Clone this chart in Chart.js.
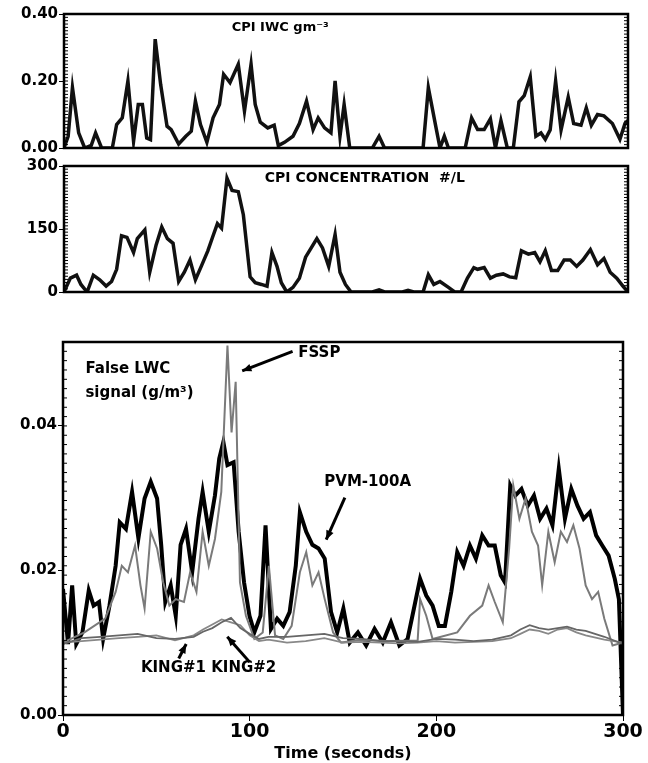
<!DOCTYPE html>
<html>
<head>
<meta charset="utf-8">
<script src="https://cdn.jsdelivr.net/npm/chart.js@4"></script>
<style>
  body { margin: 0; background: #fff; width: 648px; height: 763px; position: relative; overflow: hidden; }
  .box { position: absolute; left: 0; width: 648px; }
</style>
</head>
<body>
<div class="box" style="top:0;height:158px"><canvas id="iwc"></canvas></div>
<div class="box" style="top:156px;height:146px"><canvas id="conc"></canvas></div>
<div class="box" style="top:330px;height:433px"><canvas id="lwc"></canvas></div>
<script>
// CPI IWC g/m3, time (s)
const iwcT = [0,2.2,4.5,7.8,11,14.5,16.8,20,25.7,28,31,34,37,39.5,41.7,44,46,48.5,51.4,54.8,57,61,64.8,67.7,69.9,72.6,76,79.3,82.7,84.9,88.3,92.7,96,99.5,101.7,104.4,108.4,111.8,114,117.3,121.8,125.2,129,132.5,135.2,138.6,142,144.2,146.8,149,152,164,167.6,170.5,191,193.8,197.8,200,202.3,204.5,213.4,216.8,220,223.5,226.8,229.5,232.4,235.8,239,242,244.8,248,251,253.7,256,258.6,261.5,264.4,268.2,271.1,275,277.8,280.5,283.8,287.2,291.7,295.7,298.4,300];
const iwcV = [0,0.035,0.18,0.045,0,0.008,0.045,0,0,0.07,0.09,0.20,0.02,0.13,0.13,0.03,0.025,0.325,0.19,0.065,0.055,0.012,0.035,0.05,0.14,0.07,0.017,0.09,0.13,0.22,0.195,0.25,0.11,0.25,0.13,0.077,0.06,0.068,0.007,0.017,0.035,0.073,0.14,0.055,0.09,0.06,0.045,0.20,0.035,0.13,0,0,0.035,0,0,0.18,0.063,0,0.035,0,0,0.09,0.055,0.055,0.087,0,0.082,0,0,0.138,0.156,0.212,0.035,0.045,0.026,0.054,0.20,0.054,0.152,0.073,0.068,0.12,0.068,0.10,0.096,0.073,0.026,0.073,0.082];

// CPI concentration #/L
const concT = [0,3.4,6.7,9,12.3,15.6,19,22.4,25.3,28,30.6,33.5,37,39,43,45.6,49,52,55,58,61,64,67,69.9,73,76.5,79.3,81.6,83.8,86.7,89.4,92.7,95.4,99,101.7,105,108,110.6,113.3,115.6,118.5,121.8,125.2,128.5,134.5,137.5,140.8,144.2,146.8,149.7,152.7,164,167.6,170.5,180,183,186,191,193.8,196.7,200,204.5,207.8,211.2,214.6,218,220,223.5,226.8,230,233.6,237,240.3,243.3,247,250.4,253.2,256,259.3,262.6,266,269.3,272.7,276,280,283.8,287.2,290.5,294,297.3,300];
const concV = [0,33,40,18,0,40,29,14,25,54,134,130,94,127,148,47,112,155,127,116,25,47,76,29,61,98,134,163,152,271,242,239,184,36,22,18,14,94,61,22,0,11,33,83,127,105,61,137,47,18,0,0,5,0,0,4,0,0,41,18,25,11,0,0,33,58,54,58,33,40,43,36,34,98,90,94,72,98,51,51,76,76,61,76,101,65,80,47,33,14,0];

// PVM-100A false LWC g/m3
const pvmT = [0,2.7,4.9,7.1,10.4,13.8,16.4,19.3,21.5,24.9,28.2,30.4,33.7,37,40.4,43.7,47,50.4,52.6,54.8,57.7,60.4,63,65.9,69.2,72.6,74.8,78.1,81.4,83.7,85.9,88.1,91.4,94.1,97,99.9,102.5,105.8,108.5,111.4,114.7,118,121.4,124.7,126.9,130.3,133.6,136.9,140.2,143.6,146.9,150.2,153.6,158,162.4,166.9,171.3,175.7,180.2,184.6,188,191.3,194.6,198,201.3,204.6,208,211.2,214.6,218,221.2,224.6,228,231.3,234.5,236.8,239.6,242.3,245.6,249,252.3,255.6,259,262.2,265.6,268.9,272.3,275.6,278.9,282.3,285.6,288.9,292.3,295.6,297.8,300];
const pvmV = [0.0174,0.0098,0.0179,0.0098,0.0114,0.0172,0.0151,0.0156,0.0105,0.0151,0.0206,0.0266,0.0257,0.0308,0.0244,0.0299,0.0322,0.0299,0.0235,0.0156,0.0179,0.0137,0.0235,0.0257,0.0197,0.0271,0.0308,0.0253,0.0303,0.0354,0.0377,0.0345,0.0349,0.0253,0.0183,0.0137,0.0114,0.0137,0.0262,0.0119,0.0133,0.0123,0.0142,0.0206,0.028,0.0253,0.0235,0.023,0.0216,0.0142,0.0114,0.0147,0.01,0.0114,0.0096,0.0119,0.01,0.0128,0.0096,0.0105,0.0147,0.0188,0.0165,0.0151,0.0123,0.0123,0.017,0.0225,0.0206,0.0234,0.0216,0.0248,0.0234,0.0234,0.0193,0.0183,0.0317,0.0303,0.0312,0.0289,0.0303,0.0271,0.0285,0.0262,0.034,0.0271,0.0312,0.0289,0.0271,0.028,0.0248,0.0234,0.022,0.0188,0.016,0];

// FSSP false LWC g/m3
const fsspT = [0,11.5,22.6,28.2,31.5,34.8,38.6,41.5,43.7,47,50.4,53.7,57,60.4,64.8,68.1,71.5,74.8,78.1,81.4,84.8,88.1,90.3,92.5,94.8,98,102.5,107,110.3,113.6,118,122.5,126.9,130.3,133.6,136.9,140.2,144.7,149,160,175,190,191.3,194.6,198,211.2,218,224.6,228,231.3,235.6,239,241.2,244.5,247.8,251.2,254.5,256.7,260,263.4,266.7,270,273.4,276.7,280,283.4,286.7,290,294.4,300];
const fsspV = [0.01,0.0114,0.0133,0.017,0.0206,0.0197,0.0234,0.0179,0.0147,0.0253,0.023,0.0183,0.0151,0.016,0.0156,0.0197,0.017,0.0253,0.0206,0.0243,0.0308,0.051,0.039,0.046,0.0183,0.0137,0.0105,0.0114,0.0206,0.011,0.0105,0.0123,0.0197,0.0225,0.0179,0.0197,0.016,0.0114,0.01,0.0104,0.0102,0.0103,0.016,0.0137,0.0105,0.0114,0.0137,0.0151,0.0179,0.0156,0.0128,0.023,0.0317,0.0271,0.0299,0.0253,0.0234,0.0179,0.0253,0.0211,0.0253,0.0239,0.0262,0.023,0.0179,0.016,0.017,0.0133,0.0096,0.01];

// King probes false LWC g/m3
const kingT = [0,10,20,30,40,50,60,70,75,80,85,90,95,100,105,110,120,130,140,150,160,170,180,190,200,210,220,230,240,245,250,255,260,265,270,275,280,290,300];
const king1V = [0.0098,0.0106,0.0108,0.011,0.0112,0.0106,0.0105,0.0108,0.0115,0.012,0.0128,0.0134,0.012,0.0112,0.0105,0.0108,0.0108,0.011,0.0112,0.0106,0.0105,0.0102,0.0102,0.0101,0.0105,0.0104,0.0102,0.0104,0.011,0.0118,0.0124,0.012,0.0118,0.012,0.0122,0.0118,0.0116,0.0108,0.0098];
const king2V = [0.0100,0.0102,0.0104,0.0106,0.0108,0.0110,0.0103,0.0110,0.0118,0.0125,0.0132,0.0128,0.0124,0.0110,0.0102,0.0104,0.0100,0.0102,0.0106,0.0100,0.0101,0.0100,0.0099,0.0100,0.0102,0.0100,0.0101,0.0102,0.0106,0.0112,0.0118,0.0116,0.0112,0.0118,0.0120,0.0114,0.0110,0.0104,0.0100];

const iwcTicks = [0, 0.2, 0.4];
const concTicks = [0, 150, 300];
const lwcTicks = [0, 0.02, 0.04];
const timeTicks = [0, 100, 200, 300];

const tickFont = { family: 'DejaVu Sans', size: 15, weight: 'bold' };
const pts = (t, v) => t.map((x, i) => ({ x: x, y: v[i] }));

const frame = {
  id: 'frame',
  afterDraw(c) {
    const a = c.chartArea, ctx = c.ctx;
    ctx.save();
    ctx.strokeStyle = '#000';
    ctx.lineWidth = 2.5;
    ctx.strokeRect(a.left, a.top, a.right - a.left, a.bottom - a.top);
    // small inward ticks on left and right edges
    ctx.lineWidth = 1;
    for (let i = 1; i < 40; i++) {
      const y = a.top + (a.bottom - a.top) * i / 40;
      ctx.beginPath();
      ctx.moveTo(a.left, y); ctx.lineTo(a.left + 4, y);
      ctx.moveTo(a.right, y); ctx.lineTo(a.right - 4, y);
      ctx.stroke();
    }
    ctx.restore();
  }
};

const notes = {
  id: 'notes',
  afterDatasetsDraw(c, args, opts) {
    const ctx = c.ctx, xs = c.scales.x, ys = c.scales.y;
    ctx.save();
    ctx.fillStyle = '#000';
    ctx.strokeStyle = '#000';
    (opts.texts || []).forEach(t => {
      ctx.font = 'bold ' + (t.size || 15) + 'px "DejaVu Sans"';
      ctx.textAlign = t.align || 'left';
      ctx.textBaseline = 'middle';
      ctx.fillText(t.text, xs.getPixelForValue(t.x), ys.getPixelForValue(t.y));
    });
    (opts.arrows || []).forEach(r => {
      const x1 = xs.getPixelForValue(r.from[0]), y1 = ys.getPixelForValue(r.from[1]);
      const x2 = xs.getPixelForValue(r.to[0]), y2 = ys.getPixelForValue(r.to[1]);
      ctx.lineWidth = 3;
      ctx.beginPath(); ctx.moveTo(x1, y1); ctx.lineTo(x2, y2); ctx.stroke();
      const ang = Math.atan2(y2 - y1, x2 - x1);
      ctx.beginPath();
      ctx.moveTo(x2, y2);
      ctx.lineTo(x2 - 10 * Math.cos(ang - 0.4), y2 - 10 * Math.sin(ang - 0.4));
      ctx.lineTo(x2 - 10 * Math.cos(ang + 0.4), y2 - 10 * Math.sin(ang + 0.4));
      ctx.closePath(); ctx.fill();
    });
    ctx.restore();
  }
};

function makeChart(id, datasets, yMin, yMax, yTicks, fmt, pad, showX, noteOpts) {
  return new Chart(document.getElementById(id), {
    type: 'line',
    data: { datasets: datasets },
    plugins: [frame, notes],
    options: {
      responsive: true, maintainAspectRatio: false, animation: false,
      layout: { padding: pad },
      elements: { point: { radius: 0 }, line: { tension: 0 } },
      plugins: { legend: { display: false }, tooltip: { enabled: false }, notes: noteOpts || {} },
      scales: {
        x: {
          type: 'linear', min: 0, max: 300, display: showX,
          afterBuildTicks: s => { s.ticks = timeTicks.map(v => ({ value: v })); },
          grid: { drawOnChartArea: false, tickLength: 6, color: '#000' },
          border: { display: false },
          ticks: { color: '#000', font: { family: 'DejaVu Sans', size: 19, weight: 'bold' }, padding: 0 },
          title: { display: showX, text: 'Time (seconds)', color: '#000', font: { family: 'DejaVu Sans', size: 16, weight: 'bold' }, padding: 0 }
        },
        y: {
          min: yMin, max: yMax,
          afterBuildTicks: s => { s.ticks = yTicks.map(v => ({ value: v })); },
          afterFit: s => { s.width = 62; },
          grid: { drawOnChartArea: false, tickLength: 5, color: '#000' },
          border: { display: false },
          ticks: { color: '#000', font: tickFont, callback: fmt, padding: 1 }
        }
      }
    }
  });
}

makeChart('iwc', [
  { data: pts(iwcT, iwcV), borderColor: '#111', borderWidth: 3.5 }
], 0, 0.4, iwcTicks, v => v.toFixed(2), { top: 14, bottom: 3, left: 2, right: 20 }, false,
  { texts: [{ text: 'CPI IWC gm\u207B\u00B3', x: 115, y: 0.36, size: 13, align: 'center' }] });

makeChart('conc', [
  { data: pts(concT, concV), borderColor: '#111', borderWidth: 3.5 }
], 0, 300, concTicks, v => String(v), { top: 2, bottom: 4, left: 2, right: 20 }, false,
  { texts: [{ text: 'CPI CONCENTRATION  #/L', x: 160, y: 270, size: 14, align: 'center' }] });

makeChart('lwc', [
  { data: pts(kingT, king1V), borderColor: '#666', borderWidth: 1.8 },
  { data: pts(kingT, king2V), borderColor: '#888', borderWidth: 1.8 },
  { data: pts(fsspT, fsspV), borderColor: '#7a7a7a', borderWidth: 2 },
  { data: pts(pvmT, pvmV), borderColor: '#000', borderWidth: 4 }
], 0, 0.0515, lwcTicks, v => v.toFixed(2), { top: 12, bottom: 0, left: 1, right: 25 }, true,
  {
    texts: [
      { text: 'False LWC', x: 12, y: 0.0478 },
      { text: 'signal (g/m\u00B3)', x: 12, y: 0.0445 },
      { text: 'FSSP', x: 126, y: 0.05 },
      { text: 'PVM-100A', x: 140, y: 0.0322 },
      { text: 'KING#1 KING#2', x: 78, y: 0.0065, align: 'center' }
    ],
    arrows: [
      { from: [123, 0.0502], to: [96, 0.0475] },
      { from: [151, 0.03], to: [141, 0.0242] },
      { from: [62, 0.0078], to: [66, 0.0098] },
      { from: [100, 0.0073], to: [88, 0.0108] }
    ]
  });
</script>
</body>
</html>
